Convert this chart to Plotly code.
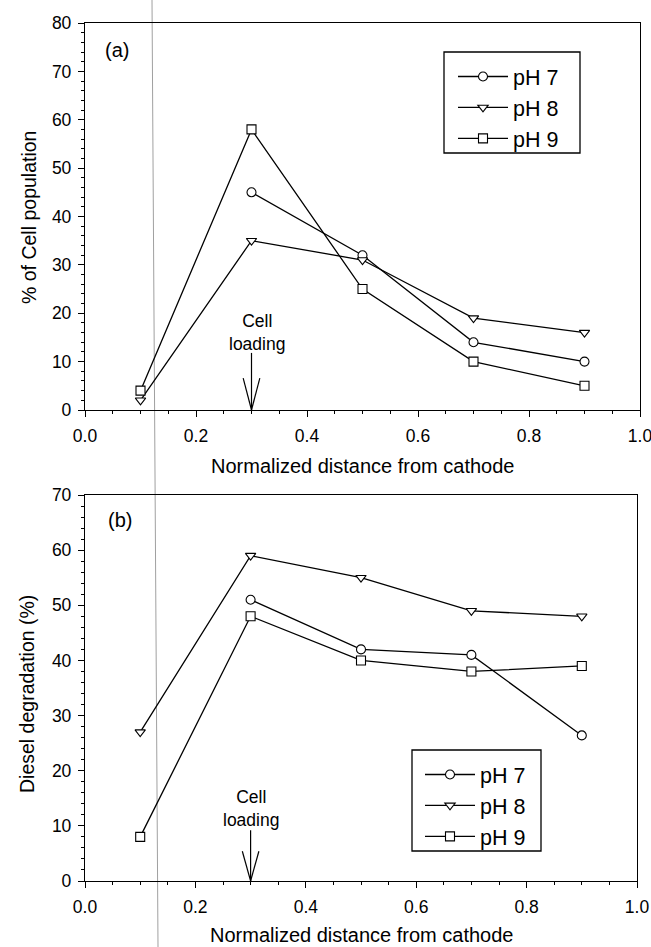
import plotly.graph_objects as go

# ---- data ----
distance = [0.1, 0.3, 0.5, 0.7, 0.9]
series_names = ["pH 7", "pH 8", "pH 9"]
cell_ph7 = [None, 45, 32, 14, 10]
cell_ph8 = [2, 35, 31, 19, 16]
cell_ph9 = [4, 58, 25, 10, 5]
diesel_ph7 = [None, 51, 42, 41, 26.4]
diesel_ph8 = [27, 59, 55, 49, 48]
diesel_ph9 = [8, 48, 40, 38, 39]
x_ticks = [0.0, 0.2, 0.4, 0.6, 0.8, 1.0]
x_ticklabels = ["0.0", "0.2", "0.4", "0.6", "0.8", "1.0"]

FONT = "Liberation Sans, Arial, sans-serif"
W, H = 651, 947

fig = go.Figure()

top_series = [cell_ph7, cell_ph8, cell_ph9]
bot_series = [diesel_ph7, diesel_ph8, diesel_ph9]
sym = ["circle", "triangle-down", "square"]

for name, ys, s in zip(series_names, top_series, sym):
    fig.add_trace(go.Scatter(
        x=distance, y=ys, name=name, mode="lines+markers",
        xaxis="x", yaxis="y", legend="legend",
        line=dict(color="black", width=1.3),
        marker=dict(symbol=s, size=9, color="white",
                    line=dict(color="black", width=1.1)),
        connectgaps=False,
    ))
for name, ys, s in zip(series_names, bot_series, sym):
    fig.add_trace(go.Scatter(
        x=distance, y=ys, name=name, mode="lines+markers",
        xaxis="x2", yaxis="y2", legend="legend2",
        line=dict(color="black", width=1.3),
        marker=dict(symbol=s, size=9, color="white",
                    line=dict(color="black", width=1.1)),
        connectgaps=False,
    ))

def xax(domain, anchor):
    return dict(domain=domain, anchor=anchor, range=[0, 1.0],
                tickvals=x_ticks, ticktext=x_ticklabels,
                ticks="outside", ticklen=6, tickwidth=1.2, tickcolor="black",
                minor=dict(dtick=0.05, ticks="outside", ticklen=3, tickcolor="black", tickwidth=1),
                showline=True, linecolor="black", linewidth=1.3, mirror=True,
                showgrid=False, zeroline=False, automargin=False,
                ticklabeloverflow="allow",
                tickfont=dict(size=17.5, color="black", family=FONT),
                ticklabelstandoff=4)

def yax(domain, anchor, rng, dtick):
    return dict(domain=domain, anchor=anchor, range=rng, dtick=dtick,
                ticks="outside", ticklen=6, tickwidth=1.2, tickcolor="black",
                minor=dict(dtick=2, ticks="outside", ticklen=3, tickcolor="black", tickwidth=1),
                showline=True, linecolor="black", linewidth=1.3, mirror=True,
                showgrid=False, zeroline=False, automargin=False,
                ticklabeloverflow="allow",
                tickfont=dict(size=17.5, color="black", family=FONT),
                ticklabelstandoff=3)

top_y = [1 - 410 / H, 1 - 23 / H]
bot_y = [1 - 881 / H, 1 - 495 / H]

legend_common = dict(borderwidth=0, bgcolor="rgba(0,0,0,0)",
                     font=dict(size=21.5, color="black", family=FONT),
                     xanchor="left", yanchor="top", tracegroupgap=0,
                     itemwidth=50)

fig.update_layout(
    width=W, height=H,
    margin=dict(l=0, r=0, t=0, b=0),
    paper_bgcolor="white", plot_bgcolor="white",
    font=dict(family=FONT, color="black"),
    showlegend=True,
    xaxis=xax([85 / W, 640 / W], "y"),
    yaxis=yax(top_y, "x", [0, 80], 10),
    xaxis2=xax([85 / W, 637 / W], "y2"),
    yaxis2=yax(bot_y, "x2", [0, 70], 10),
    legend=dict(x=453 / W, y=1 - 56 / H, **legend_common),
    legend2=dict(x=420 / W, y=1 - 754 / H, **legend_common),
)

ann = []
# axis titles
ann.append(dict(text="Normalized distance from cathode", xref="paper", yref="paper",
                x=(85 + 640) / 2 / W, y=1 - 466 / H, showarrow=False,
                font=dict(size=20, family=FONT), xanchor="center", yanchor="middle"))
ann.append(dict(text="Normalized distance from cathode", xref="paper", yref="paper",
                x=(85 + 637) / 2 / W, y=1 - 935 / H, showarrow=False,
                font=dict(size=20, family=FONT), xanchor="center", yanchor="middle"))
ann.append(dict(text="% of Cell population", xref="paper", yref="paper",
                x=29 / W, y=1 - 218 / H, showarrow=False, textangle=-90,
                font=dict(size=19.5, family=FONT), xanchor="center", yanchor="middle"))
ann.append(dict(text="Diesel degradation (%)", xref="paper", yref="paper",
                x=27 / W, y=1 - 694 / H, showarrow=False, textangle=-90,
                font=dict(size=19.5, family=FONT), xanchor="center", yanchor="middle"))
# panel labels
ann.append(dict(text="(a)", xref="paper", yref="paper", x=117 / W, y=1 - 50 / H,
                showarrow=False, font=dict(size=20, family=FONT),
                xanchor="center", yanchor="middle"))
ann.append(dict(text="(b)", xref="paper", yref="paper", x=120 / W, y=1 - 520 / H,
                showarrow=False, font=dict(size=20, family=FONT),
                xanchor="center", yanchor="middle"))
# cell loading labels
ann.append(dict(text="Cell<br>loading", xref="x", yref="y", x=0.31, y=16,
                showarrow=False, font=dict(size=17.5, family=FONT), yanchor="middle"))
ann.append(dict(text="Cell<br>loading", xref="x2", yref="y2", x=0.30, y=13.2,
                showarrow=False, font=dict(size=17.5, family=FONT), yanchor="middle"))
fig.update_layout(annotations=ann)

shapes = []
# arrows: shaft + open V head
for xr, yr, top, vtop in [("x", "y", 11.8, 6.6), ("x2", "y2", 9.2, 5.4)]:
    shapes.append(dict(type="line", xref=xr, yref=yr, x0=0.3, x1=0.3, y0=top, y1=0,
                       line=dict(color="black", width=1.2)))
    shapes.append(dict(type="line", xref=xr, yref=yr, x0=0.285, x1=0.3, y0=vtop, y1=0,
                       line=dict(color="black", width=1.2)))
    shapes.append(dict(type="line", xref=xr, yref=yr, x0=0.315, x1=0.3, y0=vtop, y1=0,
                       line=dict(color="black", width=1.2)))
# legend boxes
shapes.append(dict(type="rect", xref="paper", yref="paper",
                   x0=444 / W, x1=580 / W, y0=1 - 153 / H, y1=1 - 52 / H,
                   line=dict(color="black", width=1.3), fillcolor="white", layer="above"))
shapes.append(dict(type="rect", xref="paper", yref="paper",
                   x0=412 / W, x1=541 / W, y0=1 - 851 / H, y1=1 - 750 / H,
                   line=dict(color="black", width=1.3), fillcolor="white", layer="above"))
# scanner artifact line
shapes.append(dict(type="line", xref="paper", yref="paper", x0=152 / W, x1=158 / W,
                   y0=1, y1=0, line=dict(color="#a0a0a0", width=1), layer="below"))
fig.update_layout(shapes=shapes)

fig.write_html("out.html")
